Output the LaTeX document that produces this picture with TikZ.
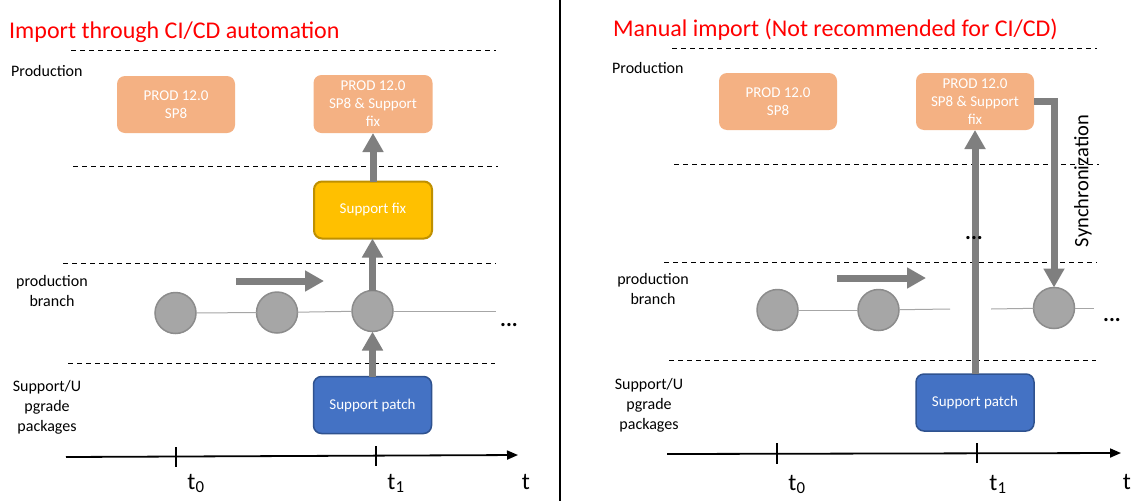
\documentclass[tikz,border=0pt]{standalone}
\usepackage{fontspec}
\setmainfont{Carlito}
\usetikzlibrary{arrows.meta}
\definecolor{salmon}{HTML}{F4B183}
\definecolor{gold}{HTML}{FFC000}
\definecolor{goldline}{HTML}{BF9000}
\definecolor{patchblue}{HTML}{4472C4}
\definecolor{patchline}{HTML}{2F528F}
\definecolor{arrowgray}{HTML}{7F7F7F}
\definecolor{commitfill}{HTML}{A6A6A6}
\definecolor{commitline}{HTML}{8C8C8C}
\definecolor{linkgray}{HTML}{A6A6A6}
\definecolor{titlered}{HTML}{FF0000}
\begin{document}
\begin{tikzpicture}[x=1pt,y=-1pt,
  box/.style={rounded corners=8pt, minimum width=118pt, minimum height=57pt, inner sep=0pt, outer sep=0pt, align=center, text=white, font=\fontsize{15}{18}\selectfont},
  prodbox/.style={box, fill=salmon},
  fixbox/.style={box, fill=gold, draw=goldline, line width=2pt},
  patchbox/.style={box, fill=patchblue, draw=patchline, line width=1.5pt},
  commit/.style={circle, minimum size=41pt, inner sep=0pt, outer sep=0pt, fill=commitfill, draw=commitline, line width=1.5pt},
  link/.style={draw=linkgray, line width=1pt},
  bigarrow/.style={draw=arrowgray, line width=7pt, line join=miter, -{Triangle[width=20pt,length=19pt]}},
  sep/.style={draw=black, line width=1pt, dash pattern=on 5pt off 4pt},
  axis/.style={draw=black, line width=1.8pt, -{Triangle[width=9pt,length=11pt]}},
  tickmark/.style={draw=black, line width=1.8pt},
  title/.style={anchor=base west, inner sep=0pt, text=titlered, font=\fontsize{24}{28}\selectfont},
  lane/.style={inner sep=0pt, align=center, font=\fontsize{16}{20}\selectfont},
  tlabel/.style={anchor=base, inner sep=0pt, font=\fontsize{24}{28}\selectfont},
  dots/.style={inner sep=0pt, font=\bfseries\fontsize{22}{26}\selectfont},
]
\useasboundingbox (0,0) rectangle (1139,501);
\fill[white] (0,0) rectangle (1139,501);

% ---------- divider ----------
\coordinate (divT) at (560,0);
\coordinate (divB) at (560,501);
\draw[line width=2pt] (divT) -- (divB);

% ---------- titles ----------
\node[title] (ttlL) at (9,38) {Import through CI/CD automation};
\node[title] (ttlR) at (613,36) {Manual import (Not recommended for CI/CD)};

% ---------- lane separators ----------
\coordinate (sL1a) at (71,50);  \coordinate (sL1b) at (496,50);
\coordinate (sL2a) at (73,166); \coordinate (sL2b) at (498,166);
\coordinate (sL3a) at (63,263); \coordinate (sL3b) at (496,263);
\coordinate (sL4a) at (68,363); \coordinate (sL4b) at (495,363);
\draw[sep] (sL1a) -- (sL1b);
\draw[sep] (sL2a) -- (sL2b);
\draw[sep] (sL3a) -- (sL3b);
\draw[sep] (sL4a) -- (sL4b);
\coordinate (sR1a) at (672,48);  \coordinate (sR1b) at (1097,48);
\coordinate (sR2a) at (674,164); \coordinate (sR2b) at (1099,164);
\coordinate (sR3a) at (664,262); \coordinate (sR3b) at (1097,262);
\coordinate (sR4a) at (669,360); \coordinate (sR4b) at (1096,360);
\draw[sep] (sR1a) -- (sR1b);
\draw[sep] (sR2a) -- (sR2b);
\draw[sep] (sR3a) -- (sR3b);
\draw[sep] (sR4a) -- (sR4b);

% ---------- lane labels ----------
\node[lane, anchor=base west] (prodL) at (11,76) {Production};
\node[lane, anchor=base west] (prodR) at (612,73) {Production};
\node[lane] (branchL) at (52,291) {production\\branch};
\node[lane] (branchR) at (653,289) {production\\branch};
\node[lane] (pkgL) at (47,407) {Support/U\\pgrade\\packages};
\node[lane] (pkgR) at (649,405) {Support/U\\pgrade\\packages};

% ---------- left panel ----------
\node[prodbox] (p1L) at (176,104.5) {PROD 12.0\\SP8};
\node[prodbox, minimum width=119pt, minimum height=58pt] (p2L) at (373,104) {PROD 12.0\\SP8 \& Support\\fix};
\node[fixbox] (fixL) at (373,210) {Support fix};
\node[patchbox] (patchL) at (372.5,405) {Support patch};

\node[commit] (c1L) at (175.5,313) {};
\node[commit] (c2L) at (277,312.5) {};
\node[commit] (c3L) at (372.5,311) {};
\coordinate (endL) at (496,311);
\draw[link] (c1L) -- (c2L);
\draw[link] (c2L) -- (c3L);
\draw[link] (c3L) -- (endL);

\coordinate (flowLs) at (236,281);
\coordinate (flowLe) at (324,281);
\draw[bigarrow] (flowLs) -- (flowLe);

\draw[bigarrow] (fixL.north) -- (p2L.south);
\draw[bigarrow] (c3L.north) -- (c3L.north |- fixL.south);
\draw[bigarrow] (patchL.north) -- (c3L.south);

\node[dots] (dotsL) at (509,325) {...};

% left time axis
\coordinate (axLs) at (66,457);
\coordinate (axLe) at (518,455);
\draw[axis] (axLs) -- (axLe);
\coordinate (tk0La) at (176,447); \coordinate (tk0Lb) at (176,467);
\coordinate (tk1La) at (376,446); \coordinate (tk1Lb) at (376,466);
\draw[tickmark] (tk0La) -- (tk0Lb);
\draw[tickmark] (tk1La) -- (tk1Lb);
\node[tlabel] (t0L) at (196,489) {t\textsubscript{0}};
\node[tlabel] (t1L) at (396,489) {t\textsubscript{1}};
\node[tlabel] (tL) at (526,489) {t};

% ---------- right panel ----------
\node[prodbox] (p1R) at (778,101.5) {PROD 12.0\\SP8};
\node[prodbox] (p2R) at (975,101.5) {PROD 12.0\\SP8 \& Support\\fix};
\node[patchbox] (patchR) at (975,402.5) {Support patch};

\node[commit] (c1R) at (777.5,310) {};
\node[commit] (c2R) at (878.5,310) {};
\node[commit] (c3R) at (1054,308) {};
\coordinate (gapR1) at (950,309);
\coordinate (gapR2) at (991,309);
\coordinate (endR) at (1094,308);
\draw[link] (c1R) -- (c2R);
\draw[link] (c2R) -- (gapR1);
\draw[link] (gapR2) -- (c3R);
\draw[link] (c3R) -- (endR);

\coordinate (flowRs) at (837,278);
\coordinate (flowRe) at (926,278);
\draw[bigarrow] (flowRs) -- (flowRe);

\draw[bigarrow] (patchR.north) -- (p2R.south);
\draw[bigarrow] (p2R.east) -| (c3R.north);
\node[rotate=90, inner sep=0pt, font=\fontsize{20.5}{24}\selectfont] (syncR) at (1083,181) {Synchronization};

\node[dots] (dotsM) at (974,238) {...};
\node[dots] (dotsR) at (1112,320) {...};

% right time axis
\coordinate (axRs) at (667,454);
\coordinate (axRe) at (1121,453);
\draw[axis] (axRs) -- (axRe);
\coordinate (tk0Ra) at (777,443); \coordinate (tk0Rb) at (777,464);
\coordinate (tk1Ra) at (977,443); \coordinate (tk1Rb) at (977,463);
\draw[tickmark] (tk0Ra) -- (tk0Rb);
\draw[tickmark] (tk1Ra) -- (tk1Rb);
\node[tlabel] (t0R) at (797,490) {t\textsubscript{0}};
\node[tlabel] (t1R) at (998,490) {t\textsubscript{1}};
\node[tlabel] (tR) at (1127,489) {t};
\end{tikzpicture}
\end{document}
